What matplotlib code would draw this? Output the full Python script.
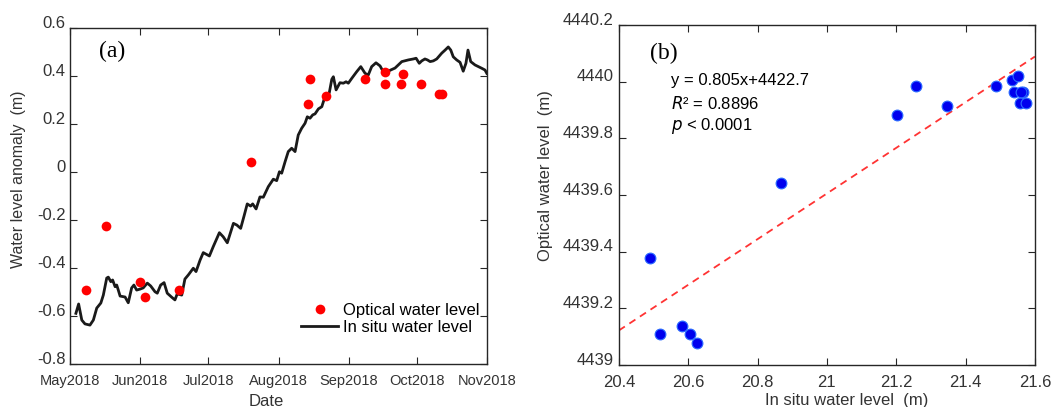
import matplotlib
matplotlib.use("Agg")
import matplotlib.pyplot as plt
import matplotlib.dates as mdates
from matplotlib.ticker import FuncFormatter, MultipleLocator
from matplotlib.transforms import ScaledTranslation
import numpy as np
import pandas as pd

plt.rcParams["font.family"] = ["Liberation Sans", "DejaVu Sans"]
plt.rcParams["axes.unicode_minus"] = False

# in situ water level anomaly, days after 2018-05-01
insitu_day = [2.6, 3.8, 5.2, 6.6, 8.8, 10.3, 11.8, 13.6, 14.7, 16.2,
              16.9, 18.0, 18.8, 19.9, 20.6, 21.3, 22.1, 24.3, 25.7, 27.2,
              28.2, 29.4, 30.9, 32.3, 34.1, 35.6, 37.5, 38.5, 40.0, 41.5,
              42.9, 44.9, 46.3, 47.3, 49.3, 50.7, 52.2, 54.4, 55.6, 57.4,
              58.8, 61.5, 63.2, 65.9, 67.6, 69.4, 72.1, 73.6, 75.3, 76.8,
              78.2, 79.7, 80.6, 82.1, 83.8, 85.3, 87.5, 89.0, 89.7, 91.2,
              92.4, 93.4, 94.9, 96.3, 97.8, 99.3, 100.7, 102.2, 103.7, 104.7,
              105.9, 107.1, 108.1, 109.6, 111.1, 112.5, 114.4, 115.5, 116.2, 117.4,
              119.1, 120.6, 121.8, 122.8, 124.3, 126.5, 128.3, 130.2, 131.6, 133.1,
              135.0, 136.8, 138.6, 140.0, 141.5, 143.4, 146.4, 149.3, 151.5, 152.7,
              154.1, 155.2, 156.6, 157.7, 158.9, 160.3, 161.8, 164.0, 165.5, 166.9,
              168.0, 169.1, 170.6, 172.1, 173.5, 174.7, 175.6, 176.8, 178.7, 180.2,
              181.7, 183.1, 183.9]
insitu_anom = [-0.589, -0.55, -0.617, -0.633, -0.638, -0.617, -0.567, -0.546, -0.513, -0.442,
               -0.438, -0.457, -0.45, -0.478, -0.471, -0.492, -0.517, -0.521, -0.545, -0.483,
               -0.471, -0.492, -0.488, -0.483, -0.463, -0.475, -0.499, -0.505, -0.471, -0.461,
               -0.505, -0.522, -0.533, -0.508, -0.513, -0.446, -0.429, -0.401, -0.415, -0.367,
               -0.336, -0.35, -0.311, -0.253, -0.27, -0.295, -0.214, -0.221, -0.235, -0.183,
               -0.133, -0.142, -0.133, -0.154, -0.104, -0.105, -0.061, -0.04, -0.03, -0.036,
               0.001, -0.005, 0.043, 0.085, 0.099, 0.085, 0.154, 0.182, 0.203, 0.23,
               0.224, 0.238, 0.242, 0.263, 0.272, 0.314, 0.33, 0.386, 0.397, 0.342,
               0.372, 0.37, 0.376, 0.37, 0.39, 0.418, 0.439, 0.411, 0.404, 0.439,
               0.455, 0.442, 0.411, 0.418, 0.425, 0.433, 0.46, 0.467, 0.471, 0.474,
               0.453, 0.463, 0.471, 0.467, 0.46, 0.463, 0.471, 0.495, 0.508, 0.521,
               0.508, 0.48, 0.467, 0.457, 0.42, 0.453, 0.508, 0.46, 0.446, 0.439,
               0.432, 0.425, 0.411]

# optical water level anomaly
optical_day = [7, 16, 31, 33, 48, 80, 105, 106, 113, 130, 139, 139, 146, 147, 155, 163, 164]
optical_anom = [-0.49, -0.225, -0.46, -0.52, -0.49, 0.042, 0.283, 0.388, 0.317, 0.388,
                0.417, 0.367, 0.367, 0.408, 0.367, 0.325, 0.325]

# scatter: in situ vs optical water level
situ_level = [20.489, 20.518, 20.583, 20.606, 20.625, 20.867, 21.201, 21.257, 21.346,
              21.487, 21.534, 21.551, 21.539, 21.566, 21.560, 21.558, 21.574]
opt_level = [4439.376, 4439.110, 4439.138, 4439.110, 4439.079, 4439.642, 4439.881, 4439.985,
             4439.914, 4439.985, 4440.007, 4440.021, 4439.964, 4439.964, 4439.964,
             4439.925, 4439.925]
fit_slope, fit_icpt = 0.805, 4422.7

start = pd.Timestamp("2018-05-01")
insitu_dates = start + pd.to_timedelta(insitu_day, unit="D")
optical_dates = start + pd.to_timedelta(optical_day, unit="D")

txt_col = "#333333"
fmt_g = FuncFormatter(lambda v, p: "%g" % round(v, 4))


def style_axes(ax, xsize, ysize):
    for s in ax.spines.values():
        s.set_color("#262626")
        s.set_linewidth(1.0)
    ax.tick_params(direction="in", top=True, right=True, length=5, width=0.8,
                   colors="#262626", labelcolor=txt_col)
    ax.tick_params(axis="x", pad=7, labelsize=xsize)
    ax.tick_params(axis="y", pad=3, labelsize=ysize)


fig = plt.figure(figsize=(10.56, 4.07), dpi=100)
ax1 = fig.add_axes([0.0663, 0.1057, 0.3949, 0.8255])
ax2 = fig.add_axes([0.586, 0.103, 0.394, 0.836])

# (a) time series
ax1.plot(optical_dates, optical_anom, "o", color="#ff0000", markersize=7,
         markeredgewidth=0, label="Optical water level", zorder=3)
ax1.plot(insitu_dates, insitu_anom, color="#1a1a1a", linewidth=2.0,
         label="In situ water level", zorder=2)
ax1.set_xlim(pd.Timestamp("2018-05-01"), pd.Timestamp("2018-11-01"))
ax1.set_ylim(-0.8, 0.6)
ax1.xaxis.set_major_locator(mdates.MonthLocator())
ax1.xaxis.set_major_formatter(mdates.DateFormatter("%b%Y"))
ax1.yaxis.set_major_locator(MultipleLocator(0.2))
ax1.yaxis.set_major_formatter(fmt_g)
style_axes(ax1, 10.5, 12)
ax1.set_xlabel("Date", fontsize=12, color=txt_col, va="top")
ax1.xaxis.set_label_coords(0.47, -0.089)
ax1.set_ylabel("Water level anomaly  (m)", fontsize=11.5, color=txt_col)
ax1.yaxis.set_label_coords(-0.105, 0.55)
ax1.text(0.1, 0.93, "(a)", transform=ax1.transAxes, fontsize=17,
         family="Liberation Serif", ha="center", va="center")
ax1.legend(loc="lower left", bbox_to_anchor=(0.555, 0.087), frameon=False,
           fontsize=12, handlelength=2.2, handletextpad=0.3,
           labelspacing=0.1, borderaxespad=0, borderpad=0)

# (b) scatter with fitted line
ax2.scatter(situ_level, opt_level, s=60, color="#0000ee", edgecolor="#2a6bff",
            linewidth=0.8, zorder=3)
fx = np.array([20.4, 21.6])
ax2.plot(fx, fit_slope * fx + fit_icpt, "--", color="#ff3333", linewidth=1.3,
         dashes=(4, 3), zorder=2)
ax2.set_xlim(20.4, 21.6)
ax2.set_ylim(4439, 4440.2)
ax2.xaxis.set_major_locator(MultipleLocator(0.2))
ax2.yaxis.set_major_locator(MultipleLocator(0.2))
ax2.xaxis.set_major_formatter(fmt_g)
ax2.yaxis.set_major_formatter(fmt_g)
style_axes(ax2, 12, 12)
ax2.tick_params(axis="y", pad=4)
ax2.set_xlabel("In situ water level  (m)", fontsize=12, color=txt_col, va="top")
ax2.xaxis.set_label_coords(0.548, -0.082)
ax2.set_ylabel("Optical water level  (m)", fontsize=12, color=txt_col)
ax2.yaxis.set_label_coords(-0.159, 0.557)
ax2.text(0.108, 0.915, "(b)", transform=ax2.transAxes, fontsize=17,
         family="Liberation Serif", ha="center", va="center")
ax2.text(0.125, 0.835, "y = 0.805x+4422.7", transform=ax2.transAxes,
         fontsize=12, va="center")
ax2.text(0.125, 0.77, r"$\it{R}$" + "² = 0.8896", transform=ax2.transAxes,
         fontsize=12, va="center")
ax2.text(0.125, 0.703, r"$\it{p}$" + " < 0.0001", transform=ax2.transAxes,
         fontsize=12, va="center")

# y tick labels sit a little above their ticks
fig.canvas.draw()
lift = ScaledTranslation(0, 4.5 / 72, fig.dpi_scale_trans)
for ax in (ax1, ax2):
    for lab in ax.get_yticklabels():
        lab.set_transform(lab.get_transform() + lift)

fig.savefig("out.png", dpi=100)
plt.close(fig)
